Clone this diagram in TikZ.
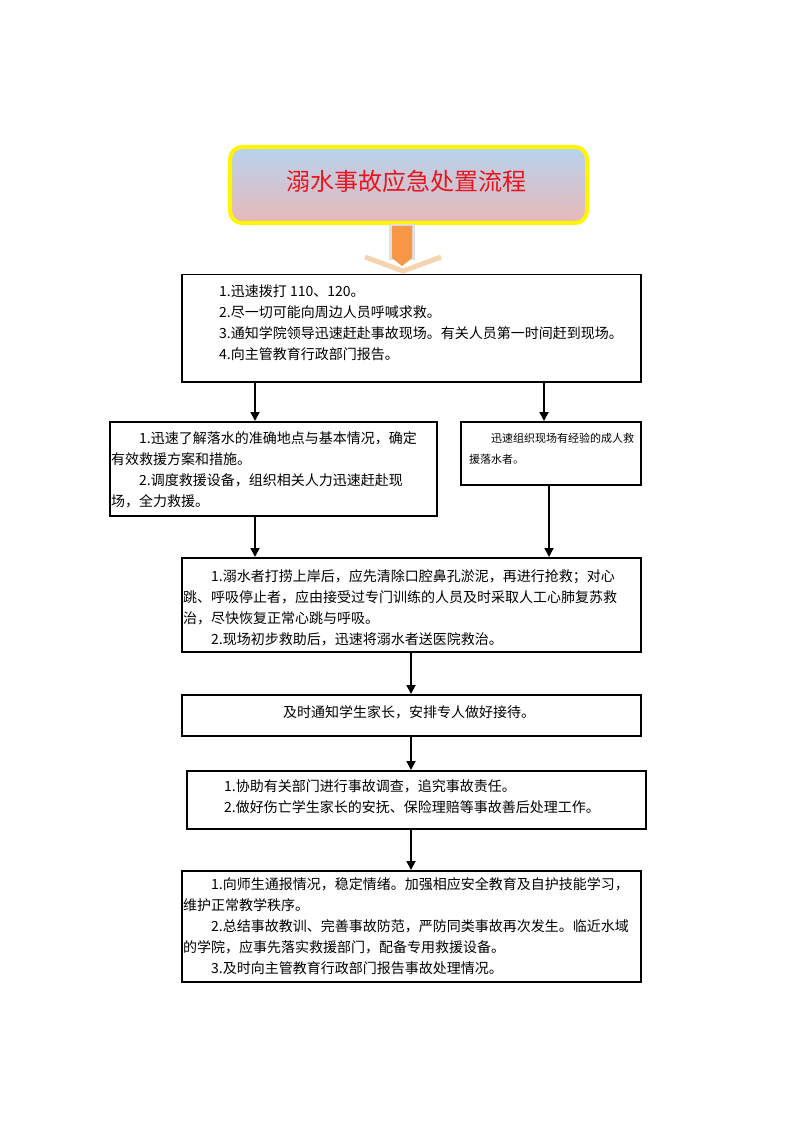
\documentclass[tikz,border=0pt]{standalone}
\usepackage{fontspec}
\setmainfont{Noto Sans CJK SC}
\usetikzlibrary{arrows.meta}
\definecolor{titlered}{RGB}{235,20,30}
\definecolor{topblue}{RGB}{183,211,238}
\definecolor{botpink}{RGB}{232,184,184}
\definecolor{arrorange}{RGB}{247,150,70}
\definecolor{arrtan}{RGB}{246,212,176}
\definecolor{edgeyellow}{RGB}{255,245,0}
\begin{document}
\begin{tikzpicture}[x=1pt,y=-1pt,
  box/.style={draw=black, line width=1.5pt, anchor=north west, inner sep=0pt},
  txt/.style={anchor=north west, inner sep=0pt, align=left, font=\fontsize{14}{21}\selectfont},
  arr/.style={-{Triangle[width=9pt,length=9pt]}, line width=1.8pt}]
\useasboundingbox[fill=white] (0,0) rectangle (800,1131);

% title
\node[draw=edgeyellow, line width=4pt, rounded corners=12pt, top color=topblue, bottom color=botpink,
      minimum width=357pt, minimum height=76pt, anchor=north west, inner sep=0pt] (title) at (228,145) {};
\node[text=titlered, font=\fontsize{24}{28}\selectfont, inner sep=0pt] (titletext) at (406,181) {溺水事故应急处置流程};

% big orange arrow
\draw[line width=5pt, arrtan, line join=miter] (365,257) -- (403,271) -- (441,257);
\fill[gray!25] (389,224) rectangle (415,260);
\fill[arrorange] (392,226) -- (412,226) -- (412,258) -- (402,266) -- (392,258) -- cycle;

% boxes
\node[box, minimum width=459pt, minimum height=107pt] (b1) at (181,274) {};
\node[box, minimum width=327pt, minimum height=94pt] (b2L) at (109,421) {};
\node[box, minimum width=180pt, minimum height=63pt] (b2R) at (460,421) {};
\node[box, minimum width=459pt, minimum height=94pt] (b3) at (181,557) {};
\node[box, minimum width=459pt, minimum height=41pt] (b4) at (181,694) {};
\node[box, minimum width=459pt, minimum height=58pt] (b5) at (186,770) {};
\node[box, minimum width=459pt, minimum height=111pt] (b6) at (181,870) {};

% texts
\node[txt] (t1) at (219,285) {1.迅速拨打 110、120。\\2.尽一切可能向周边人员呼喊求救。\\3.通知学院领导迅速赶赴事故现场。有关人员第一时间赶到现场。\\4.向主管教育行政部门报告。};
\node[txt] (t2L) at (111,431) {\hspace*{2em}1.迅速了解落水的准确地点与基本情况，确定\\有效救援方案和措施。\\\hspace*{2em}2.调度救援设备，组织相关人力迅速赶赴现\\场，全力救援。};
\node[txt, font=\fontsize{11}{21}\selectfont] (t2R) at (469,432.5) {\hspace*{2em}迅速组织现场有经验的成人救\\援落水者。};
\node[txt] (t3) at (183,569) {\hspace*{2em}1.溺水者打捞上岸后，应先清除口腔鼻孔淤泥，再进行抢救；对心\\跳、呼吸停止者，应由接受过专门训练的人员及时采取人工心肺复苏救\\治，尽快恢复正常心跳与呼吸。\\\hspace*{2em}2.现场初步救助后，迅速将溺水者送医院救治。};
\node[inner sep=0pt, font=\fontsize{14}{21}\selectfont] (t4) at (409,712) {及时通知学生家长，安排专人做好接待。};
\node[txt] (t5) at (224,779) {1.协助有关部门进行事故调查，追究事故责任。\\2.做好伤亡学生家长的安抚、保险理赔等事故善后处理工作。};
\node[txt] (t6) at (183,877) {\hspace*{2em}1.向师生通报情况，稳定情绪。加强相应安全教育及自护技能学习，\\维护正常教学秩序。\\\hspace*{2em}2.总结事故教训、完善事故防范，严防同类事故再次发生。临近水域\\的学院，应事先落实救援部门，配备专用救援设备。\\\hspace*{2em}3.及时向主管教育行政部门报告事故处理情况。};

% connectors
\coordinate (xL) at (255,0);
\coordinate (xR1) at (544,0);
\coordinate (xR2) at (549,0);
\coordinate (xM) at (411,0);
\draw[arr] (xL |- b1.south) -- (xL |- b2L.north);
\draw[arr] (xR1 |- b1.south) -- (xR1 |- b2R.north);
\draw[arr] (xL |- b2L.south) -- (xL |- b3.north);
\draw[arr] (xR2 |- b2R.south) -- (xR2 |- b3.north);
\draw[arr] (xM |- b3.south) -- (xM |- b4.north);
\draw[arr] (xM |- b4.south) -- (xM |- b5.north);
\draw[arr] (xM |- b5.south) -- (xM |- b6.north);
\end{tikzpicture}
\end{document}
